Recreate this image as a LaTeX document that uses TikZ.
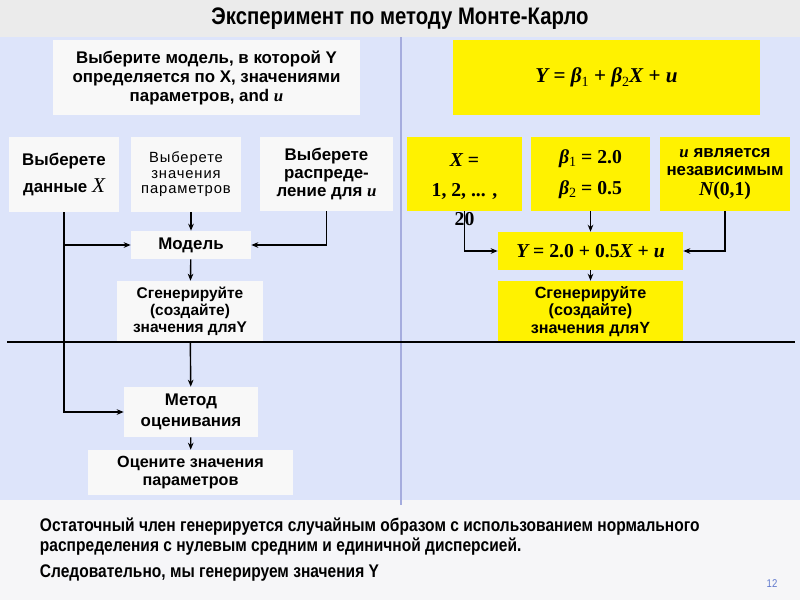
\documentclass[tikz,border=0pt]{standalone}
\usepackage{fontspec}
\setmainfont{Liberation Sans}
\newfontfamily\narrowfont[FakeStretch=0.85]{Liberation Sans}
\newfontfamily\spacedfont[LetterSpace=6]{Liberation Sans}
\newfontfamily\eqfont{Liberation Serif}
\usetikzlibrary{arrows.meta}

\definecolor{titlegray}{RGB}{235,235,235}
\definecolor{panelblue}{RGB}{221,228,250}
\definecolor{footgray}{RGB}{246,246,248}
\definecolor{boxwhite}{RGB}{248,248,248}
\definecolor{divline}{RGB}{165,172,222}
\definecolor{pagenum}{RGB}{95,120,205}

\newcommand{\ev}[1]{{\eqfont\bfseries\itshape #1}}
\newcommand{\bt}[1]{{\eqfont\bfseries\itshape β}\raisebox{-0.4ex}{\eqfont\mdseries\fontsize{10}{10}\selectfont #1}}

\begin{document}
\begin{tikzpicture}[x=0.025cm, y=-0.025cm,
  wbox/.style={fill=boxwhite, inner sep=1pt, align=center, font=\bfseries\fontsize{12}{13}\selectfont},
  ybox/.style={fill=yellow, inner sep=1pt, align=center, font=\bfseries\fontsize{12}{13}\selectfont},
  link/.style={line width=1pt, -{Stealth[length=5pt,width=4pt]}}]
 	\useasboundingbox (0,0) rectangle (800,600);
 	% Background
 	\fill[titlegray] (0,0) rectangle (800,37);
 	\fill[panelblue] (0,37) rectangle (800,500);
 	\fill[footgray] (0,500) rectangle (800,600);
 	\draw[divline, line width=1.5pt] (401,37) -- (401,505);
 	\node[font=\narrowfont\bfseries\fontsize{17}{20}\selectfont] (title) at (400,19) {Эксперимент по методу Монте-Карло};
 	% Nodes (left)
 	\node[wbox, minimum width=7.675cm, minimum height=1.875cm, font=\bfseries\fontsize{12}{13.5}\selectfont] (choose_model) at (206.5,77.5) {Выберите модель, в которой Y\\определяется по X, значениями\\параметров, and \ev{u}};
 	\node[wbox, minimum width=2.75cm, minimum height=1.875cm, font=\bfseries\fontsize{12}{19}\selectfont] (data_x) at (64,174.5) {Выберете\\данные {\eqfont\mdseries\itshape\fontsize{15}{19}\selectfont X}};
 	\node[wbox, minimum width=2.75cm, minimum height=1.875cm, font=\spacedfont\fontsize{10.5}{11}\selectfont] (par_val) at (186,174.5) {Выберете\\значения\\параметров};
 	\node[wbox, minimum width=3.325cm, minimum height=1.85cm, font=\bfseries\fontsize{12}{12.5}\selectfont] (dist_u) at (326.5,174) {Выберете\\распреде-\\ление для \ev{u}};
 	\node[wbox, minimum width=3cm, minimum height=0.7cm] (model) at (191,245) {Модель};
 	\node[wbox, minimum width=3.65cm, minimum height=1.5cm, font=\bfseries\fontsize{11}{12}\selectfont] (gen_y) at (190,311) {Сгенерируйте\\(создайте)\\значения дляY};
 	\node[wbox, minimum width=3.35cm, minimum height=1.25cm, font=\bfseries\fontsize{12}{14.5}\selectfont] (est_m) at (191,412) {Метод\\оценивания};
 	\node[wbox, minimum width=5.125cm, minimum height=1.125cm, font=\bfseries\fontsize{11.5}{13}\selectfont] (est_val) at (190.5,472.5) {Оцените значения\\параметров};
 	% Nodes (right)
 	\node[ybox, minimum width=7.675cm, minimum height=1.875cm, font=\eqfont\bfseries\fontsize{15}{17}\selectfont] (model_eq) at (606.5,77.5) {\ev{Y} = \bt{1} + \bt{2}\ev{X} + \ev{u}};
 	\node[ybox, minimum width=2.875cm, minimum height=1.85cm] (x_val) at (464.5,174) {};
 	\node[align=center, font=\eqfont\bfseries\fontsize{14}{21}\selectfont] (x_txt) at (464.5,190) {\ev{X} =\\1, 2, ... ,\\20};
 	\node[ybox, minimum width=2.975cm, minimum height=1.85cm, font=\eqfont\bfseries\fontsize{14}{22}\selectfont] (b_val) at (590.5,174) {\bt{1} = 2.0\\\bt{2} = 0.5};
 	\node[ybox, minimum width=3.25cm, minimum height=1.85cm, font=\bfseries\fontsize{12}{12.5}\selectfont] (u_dist) at (725,174) {\ev{u} является\\независимым\\[2pt]{\eqfont\fontsize{14}{16}\selectfont\ev{N}(0,1)}};
 	\node[ybox, minimum width=4.625cm, minimum height=0.95cm, font=\eqfont\bfseries\fontsize{14}{16}\selectfont] (y_model) at (590.5,251) {\ev{Y} = 2.0 + 0.5\ev{X} + \ev{u}};
 	\node[ybox, minimum width=4.625cm, minimum height=1.525cm, font=\bfseries\fontsize{11.5}{12.5}\selectfont] (gen_yr) at (590.5,311.5) {Сгенерируйте\\(создайте)\\значения дляY};
 	% Edges
 	\draw[link] (data_x.south) |- (model.west);
 	\draw[link] (data_x.south) |- (est_m.west);
 	\draw[link] (par_val.south -| model.north) -- (model.north);
 	\draw[link] (dist_u.south) |- (model.east);
 	\draw[link] (model) -- (gen_y);
 	\draw[link] (gen_y) -- (est_m);
 	\draw[link] (est_m) -- (est_val);
 	\draw[link] (x_val.south) |- (y_model.west);
 	\draw[link] (b_val) -- (y_model);
 	\draw[link] (u_dist.south) |- (y_model.east);
 	\draw[link] (y_model) -- (gen_yr);
 	\draw[line width=1.2pt] (7,342) -- (795,342);
 	% Footer
 	\node[anchor=north west, align=left, font=\narrowfont\bfseries\fontsize{13}{14.5}\selectfont] (note) at (35,513) {Остаточный член генерируется случайным образом с использованием нормального\\распределения с нулевым средним и единичной дисперсией.\\[4pt]Следовательно, мы генерируем значения Y};
 	\node[font=\narrowfont\fontsize{8}{9}\selectfont, text=pagenum] (page_no) at (772,584) {12};
\end{tikzpicture}
\end{document}
